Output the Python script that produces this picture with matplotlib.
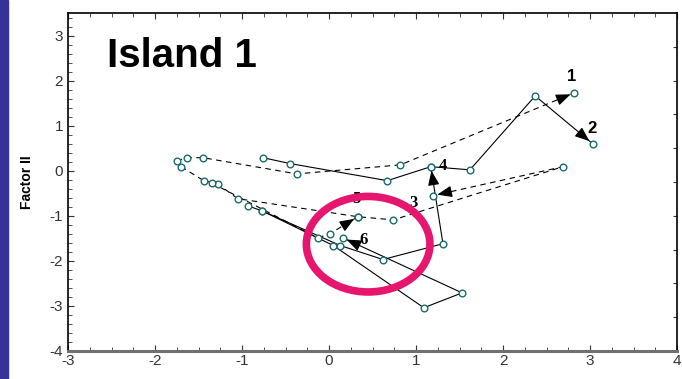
import matplotlib
matplotlib.use("Agg")
import matplotlib.pyplot as plt
import numpy as np
from matplotlib.patches import Ellipse, Rectangle

plt.rcParams['font.family'] = ['Liberation Sans', 'DejaVu Sans']
plt.rcParams['axes.unicode_minus'] = False

# ---- data (Factor I, Factor II) for each trajectory ----
t1_x = [-1.75, -1.63, -1.45, -0.37, 0.82, 2.82]
t1_y = [0.22, 0.29, 0.29, -0.07, 0.13, 1.73]

t2_x = [-0.76, -0.45, 0.67, 1.17, 1.62, 2.37, 3.03]
t2_y = [0.29, 0.16, -0.22, 0.09, 0.02, 1.66, 0.60]

t3_x = [-1.70, -1.44, -1.28, -1.05, 0.33, 0.74, 2.69, 1.20]
t3_y = [0.09, -0.22, -0.29, -0.62, -1.02, -1.09, 0.09, -0.55]

t4_x = [-0.93, -0.77, 0.13, 0.62, 1.31, 1.17]
t4_y = [-0.78, -0.89, -1.66, -1.97, -1.62, 0.09]

t5_x = [-1.35, -0.13, 0.01, 0.33]
t5_y = [-0.27, -1.49, -1.40, -1.02]

t6_x = [-0.77, 0.05, 1.09, 1.53, 0.16]
t6_y = [-0.89, -1.66, -3.04, -2.71, -1.49]

trajectories = [
    (t1_x, t1_y, '--', '1'),
    (t2_x, t2_y, '-', '2'),
    (t3_x, t3_y, '--', '3'),
    (t4_x, t4_y, '-', '4'),
    (t5_x, t5_y, '--', '5'),
    (t6_x, t6_y, '-', '6'),
]
label_pos = {'1': (2.79, 2.08), '2': (3.02, 0.93), '3': (0.97, -0.72),
             '4': (1.31, 0.11), '5': (0.32, -0.62), '6': (0.40, -1.53)}
label_font = {'1': 'sans', '2': 'sans', '3': 'serif', '4': 'serif', '5': 'serif', '6': 'serif'}

x_ticks = [-3, -2, -1, 0, 1, 2, 3, 4]
y_ticks = [-4, -3, -2, -1, 0, 1, 2, 3]

fig = plt.figure(figsize=(6.82, 3.79), dpi=100)
fig.patches.append(Rectangle((0, 0), 8 / 682, 1, transform=fig.transFigure,
                             color='#33339a', zorder=0))
ax = fig.add_axes([68 / 682, 28 / 379, 609 / 682, 338 / 379])
ax.set_xlim(-3, 4)
ax.set_ylim(-4, 3.5)

for xs, ys, ls, lab in trajectories:
    ax.plot(xs, ys, linestyle=ls, color='black', lw=0.8,
            dashes=(5, 4) if ls == '--' else (None, None), zorder=2)
    ax.plot(xs, ys, linestyle='none', marker='o', ms=4.8, mfc='white',
            mec='#1d6a6a', mew=1.0, zorder=3)

fig.canvas.draw()
for xs, ys, ls, lab in trajectories:
    p_end = ax.transData.transform((xs[-1], ys[-1]))
    p_prev = ax.transData.transform((xs[-2], ys[-2]))
    d = p_end - p_prev
    d = d / np.hypot(*d)
    tip = p_end - d * 4
    tail = tip - d * 14
    tip_d = ax.transData.inverted().transform(tip)
    tail_d = ax.transData.inverted().transform(tail)
    ax.annotate('', xy=tip_d, xytext=tail_d,
                arrowprops=dict(arrowstyle='-|>,head_length=0.9,head_width=0.35',
                                color='black', lw=0.8, shrinkA=0, shrinkB=0),
                zorder=4)
    lx, ly = label_pos[lab]
    fam = ['Liberation Sans'] if label_font[lab] == 'sans' else ['Liberation Serif']
    ax.text(lx, ly, lab, fontsize=12, fontweight='bold', ha='center', va='center',
            family=fam, zorder=5)

ax.add_patch(Ellipse((0.45, -1.63), 1.42, 2.12, fill=False, ec='#e6166e', lw=5.5, zorder=6))

ax.text(-2.55, 2.55, 'Island 1', fontsize=29, fontweight='bold', ha='left', va='center')

ax.set_xticks(x_ticks)
ax.set_yticks(y_ticks)
ax.set_xticks(np.arange(-3, 4.01, 0.25), minor=True)
ax.set_yticks(np.arange(-4, 3.5, 0.2), minor=True)
ax.tick_params(axis='both', which='both', direction='in', top=True, right=False,
               colors='#333333', labelsize=11)
ax.tick_params(axis='x', which='major', pad=2)
ax.tick_params(which='major', length=4)
ax.tick_params(which='minor', length=3)
sec = ax.secondary_yaxis('right')
sec.set_yticks(np.arange(-3.25, 3.0, 0.75))
sec.set_yticklabels([])
sec.tick_params(direction='in', length=3, colors='#333333')
sec.spines['right'].set_visible(False)

for s in ['left', 'top', 'right']:
    ax.spines[s].set_linewidth(1.2)
    ax.spines[s].set_color('black')
ax.spines['bottom'].set_linewidth(2.2)
ax.spines['bottom'].set_color('#707070')

ax.set_ylabel('Factor II', fontsize=10, fontweight='bold', labelpad=11)

fig.savefig('out.png', dpi=100)
